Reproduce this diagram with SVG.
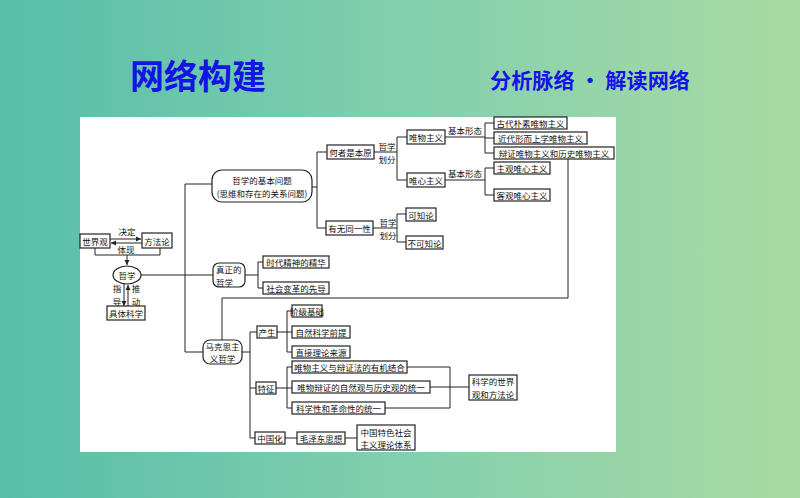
<svg xmlns="http://www.w3.org/2000/svg" width="800" height="498" viewBox="0 0 800 498">
<defs>
<linearGradient id="bg" x1="0" y1="0" x2="1" y2="0">
<stop offset="0" stop-color="#57bea8"/>
<stop offset="0.5" stop-color="#82cfae"/>
<stop offset="1" stop-color="#a9daa3"/>
</linearGradient>
<marker id="ah" markerWidth="6" markerHeight="6" refX="5" refY="3" orient="auto" markerUnits="userSpaceOnUse">
<path d="M0,0.5 L5,3 L0,5.5 z" fill="#222"/>
</marker>
<style>
.box{fill:#fff;stroke:#222;stroke-width:1.2}
.ln{fill:none;stroke:#222;stroke-width:1}
.t{font-family:"Noto Sans CJK SC","Noto Sans",sans-serif;font-size:8.5px;fill:#111;text-anchor:middle;dominant-baseline:central}
.l{text-anchor:start}
.ttl{font-family:"Noto Sans CJK SC",sans-serif;font-weight:bold;fill:#1414e6}
</style>
</defs>
<rect x="0" y="0" width="800" height="498" fill="url(#bg)"/>
<text class="ttl" x="130" y="89" font-size="34">网络构建</text>
<text class="ttl" x="490" y="88" font-size="21" textLength="200" lengthAdjust="spacingAndGlyphs">分析脉络 · 解读网络</text>
<rect x="80" y="117" width="536" height="335" fill="#fff"/>

<g id="connectors">
<line class="ln" x1="110" y1="239" x2="141" y2="239" marker-end="url(#ah)"/>
<line class="ln" x1="142" y1="243" x2="111" y2="243" marker-end="url(#ah)"/>
<path class="ln" d="M95 248 V255 H160 V248"/>
<line class="ln" x1="127" y1="255" x2="127" y2="265" marker-end="url(#ah)"/>
<line class="ln" x1="124" y1="284" x2="124" y2="306" marker-end="url(#ah)"/>
<line class="ln" x1="128" y1="306" x2="128" y2="285" marker-end="url(#ah)"/>
<line class="ln" x1="141" y1="275" x2="213" y2="275"/>
<path class="ln" d="M212 184 H185 V352 H203"/>
<path class="ln" d="M312 187 H317"/>
<path class="ln" d="M327 152 H317 V228 H326"/>
<path class="ln" d="M374 152 H397"/>
<path class="ln" d="M407 137 H397 V180 H407"/>
<path class="ln" d="M445 137 H485"/>
<path class="ln" d="M494 123 H485 V153 H494 M485 138 H494"/>
<path class="ln" d="M445 180 H485"/>
<path class="ln" d="M494 168 H485 V195 H494"/>
<path class="ln" d="M373 228 H397"/>
<path class="ln" d="M406 214 H397 V242 H406"/>
<path class="ln" d="M245 275 H258"/>
<path class="ln" d="M263 262 H258 V288 H263"/>
<path class="ln" d="M568 159 V298 H222 V340"/>
<path class="ln" d="M242 352 H250"/>
<path class="ln" d="M257 332 H250 V438 H255 M250 388 H256"/>
<path class="ln" d="M277 332 H292 M292 311 H287 V352 H292"/>
<path class="ln" d="M276 388 H292 M292 367 H287 V408 H292"/>
<path class="ln" d="M407 367 H450 V408 H385 M430 387 H469"/>
<path class="ln" d="M285 438 H297 M345 438 H357"/>
</g>

<g id="n-shijieguan"><rect class="box" x="80" y="234" width="30" height="14"/><text class="t" x="95" y="241">世界观</text></g>
<g id="n-fangfalun"><rect class="box" x="142" y="233" width="30" height="15"/><text class="t" x="157" y="240.5">方法论</text></g>
<g id="l-jueding"><text class="t" x="127" y="231">决定</text></g>
<g id="l-tixian"><text class="t" x="126" y="249">体现</text></g>
<g id="n-zhexue"><ellipse class="box" cx="127" cy="275" rx="14" ry="9"/><text class="t" x="127" y="275">哲学</text></g>
<g id="l-zhidao"><text class="t" x="117" y="288">指</text><text class="t" x="117" y="300.5">导</text></g>
<g id="l-tuidong"><text class="t" x="136" y="288">推</text><text class="t" x="136" y="300.5">动</text></g>
<g id="n-jutikexue"><rect class="box" x="107" y="306" width="38" height="14"/><text class="t" x="126" y="313">具体科学</text></g>

<g id="n-jibenwenti"><rect class="box" x="212" y="170" width="100" height="32" rx="10"/><text class="t" x="262" y="180">哲学的基本问题</text><text class="t" x="262" y="192.5">(思维和存在的关系问题)</text></g>
<g id="n-hezhe"><rect class="box" x="327" y="145" width="47" height="14"/><text class="t" x="350.5" y="152">何者是本原</text></g>
<g id="l-huafen1"><text class="t" x="387" y="145.5">哲学</text><text class="t" x="387" y="159">划分</text></g>
<g id="n-weiwu"><rect class="box" x="407" y="130" width="38" height="14"/><text class="t" x="426" y="137">唯物主义</text></g>
<g id="n-weixin"><rect class="box" x="407" y="173" width="38" height="14"/><text class="t" x="426" y="180">唯心主义</text></g>
<g id="l-xingtai1"><text class="t" x="465" y="130">基本形态</text></g>
<g id="l-xingtai2"><text class="t" x="465" y="173">基本形态</text></g>
<g id="n-gudai"><rect class="box" x="494" y="117" width="73" height="12"/><text class="t" x="530.5" y="123">古代朴素唯物主义</text></g>
<g id="n-jindai"><rect class="box" x="494" y="132" width="93" height="12"/><text class="t" x="540.5" y="138">近代形而上学唯物主义</text></g>
<g id="n-bianzheng"><rect class="box" x="494" y="147" width="120" height="12"/><text class="t" x="554" y="153">辩证唯物主义和历史唯物主义</text></g>
<g id="n-zhuguan"><rect class="box" x="494" y="162" width="56" height="12"/><text class="t" x="522" y="168">主观唯心主义</text></g>
<g id="n-keguan"><rect class="box" x="494" y="189" width="56" height="12"/><text class="t" x="522" y="195">客观唯心主义</text></g>
<g id="n-tongyi"><rect class="box" x="326" y="221" width="47" height="14"/><text class="t" x="349.5" y="228">有无同一性</text></g>
<g id="l-huafen2"><text class="t" x="388" y="221.5">哲学</text><text class="t" x="388" y="234.5">划分</text></g>
<g id="n-kezhi"><rect class="box" x="406" y="208" width="30" height="13"/><text class="t" x="421" y="214.5">可知论</text></g>
<g id="n-bukezhi"><rect class="box" x="406" y="236" width="37" height="13"/><text class="t" x="424.5" y="242.5">不可知论</text></g>

<g id="n-zhenzheng"><rect class="box" x="213" y="263" width="32" height="24" rx="6"/><text class="t l" x="216" y="269">真正的</text><text class="t l" x="216" y="281.5">哲学</text></g>
<g id="n-jinghua"><rect class="box" x="263" y="256" width="66" height="12"/><text class="t" x="296" y="262">时代精神的精华</text></g>
<g id="n-xiandao"><rect class="box" x="263" y="282" width="66" height="12"/><text class="t" x="296" y="288">社会变革的先导</text></g>

<g id="n-makesi"><rect class="box" x="203" y="340" width="39" height="24" rx="7"/><text class="t" x="222.5" y="345.8">马克思主</text><text class="t" x="222.5" y="358.3">义哲学</text></g>
<g id="n-chansheng"><rect class="box" x="257" y="326" width="20" height="12"/><text class="t" x="267" y="332">产生</text></g>
<g id="n-jieji"><rect class="box" x="292" y="305" width="30" height="12"/><text class="t" x="307" y="311">阶级基础</text></g>
<g id="n-ziran"><rect class="box" x="292" y="326" width="58" height="12"/><text class="t" x="321" y="332">自然科学前提</text></g>
<g id="n-zhijie"><rect class="box" x="292" y="346" width="58" height="12"/><text class="t" x="321" y="352">直接理论来源</text></g>
<g id="n-tezheng"><rect class="box" x="256" y="382" width="20" height="12"/><text class="t" x="266" y="388">特征</text></g>
<g id="n-youji"><rect class="box" x="292" y="361" width="115" height="12"/><text class="t" x="349.5" y="367">唯物主义与辩证法的有机结合</text></g>
<g id="n-ziranguan"><rect class="box" x="292" y="381" width="138" height="12"/><text class="t" x="361" y="387">唯物辩证的自然观与历史观的统一</text></g>
<g id="n-kexuexing"><rect class="box" x="292" y="402" width="93" height="12"/><text class="t" x="338.5" y="408">科学性和革命性的统一</text></g>
<g id="n-kexuede"><rect class="box" x="469" y="375" width="48" height="25"/><text class="t" x="493" y="381.2">科学的世界</text><text class="t" x="493" y="393.7">观和方法论</text></g>
<g id="n-zhongguohua"><rect class="box" x="255" y="432" width="30" height="12"/><text class="t" x="270" y="438">中国化</text></g>
<g id="n-mao"><rect class="box" x="297" y="432" width="48" height="12"/><text class="t" x="321" y="438">毛泽东思想</text></g>
<g id="n-tese"><rect class="box" x="357" y="425" width="58" height="25"/><text class="t" x="386" y="431.5">中国特色社会</text><text class="t" x="386" y="444">主义理论体系</text></g>
</svg>
